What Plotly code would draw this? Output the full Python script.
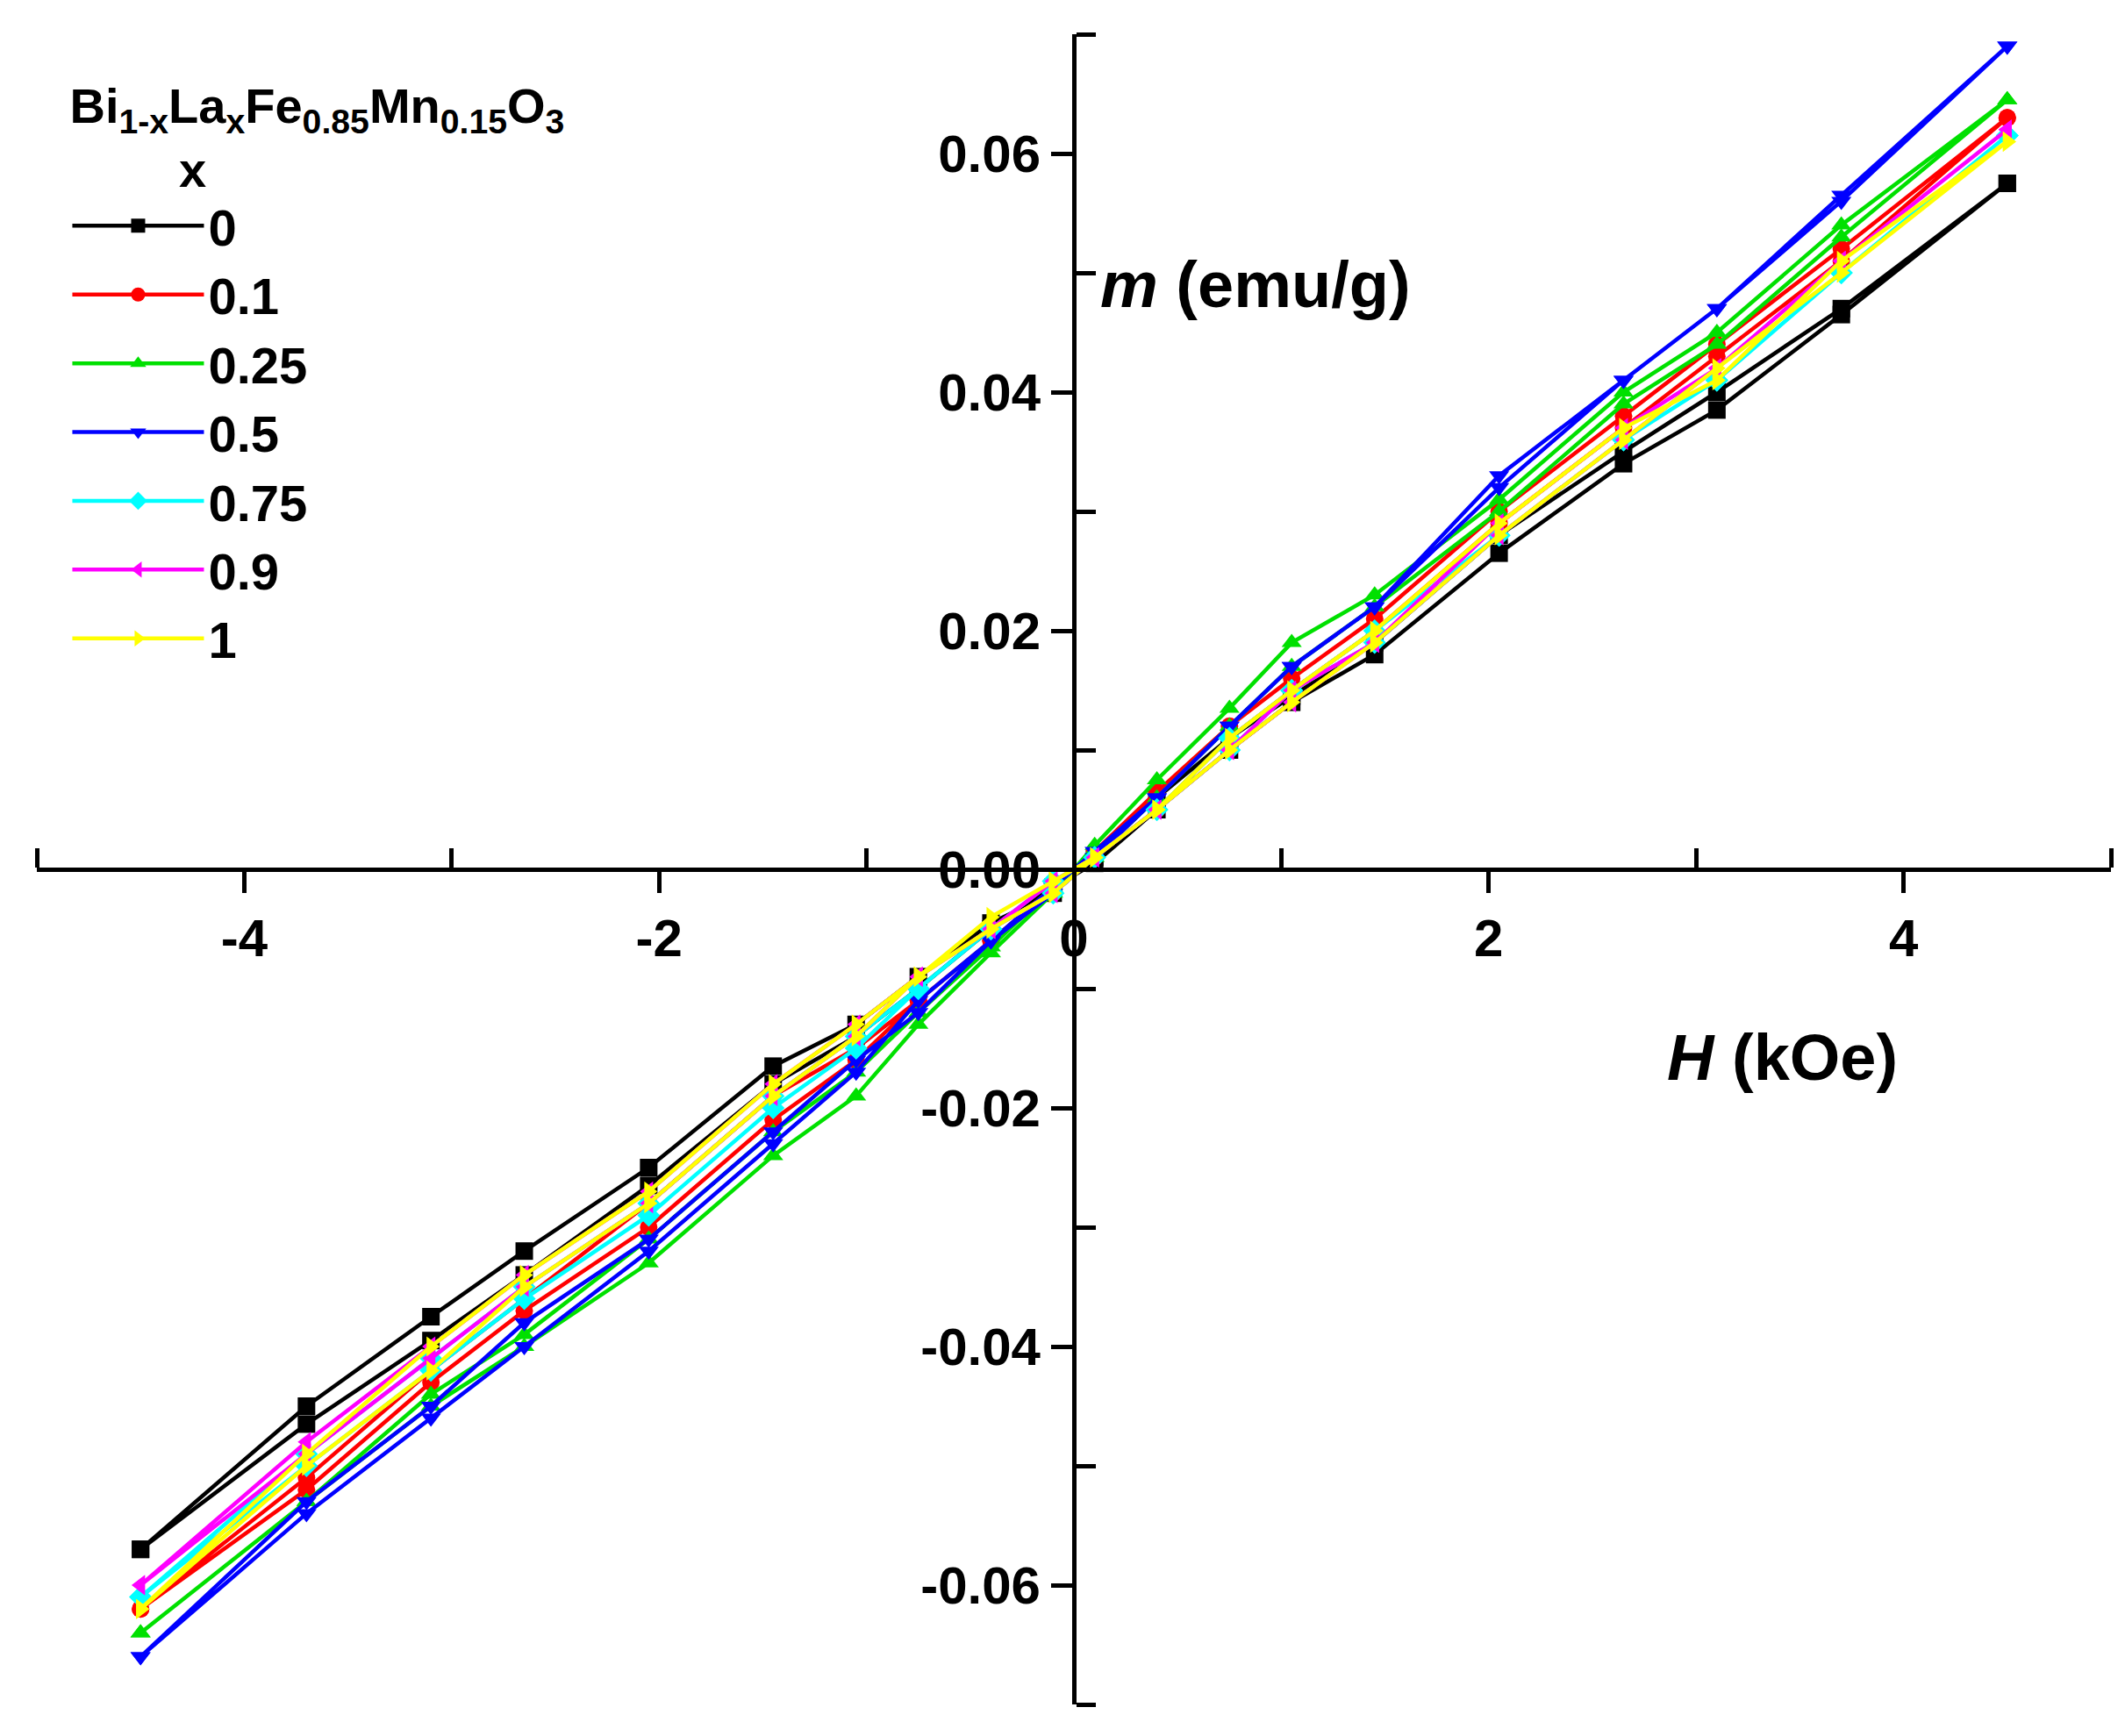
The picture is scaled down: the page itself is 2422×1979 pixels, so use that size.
import plotly.graph_objects as go

H_down = [4.5,3.7,3.1,2.65,2.05,1.45,1.05,0.75,0.4,0.1,-0.1,-0.4,-0.75,-1.05,-1.45,-2.05,-2.65,-3.1,-3.7,-4.5]
H_up = H_down[::-1]

labels = ["0","0.1","0.25","0.5","0.75","0.9","1"]
colors = ["black","red","#00e000","blue","cyan","magenta","yellow"]
symbols = ["square","circle","triangle-up","triangle-down","diamond","triangle-left","triangle-right"]

m0_down = [0.0575,0.047,0.040,0.035,0.028,0.019,0.0145,0.011,0.006,0.001,-0.002,-0.0045,-0.009,-0.013,-0.0165,-0.025,-0.032,-0.0375,-0.045,-0.057]
m0_up = [-0.057,-0.0465,-0.0395,-0.034,-0.0265,-0.018,-0.014,-0.010,-0.005,-0.0015,0.0005,0.005,0.010,0.014,0.018,0.0265,0.034,0.0385,0.0465,0.0575]
m1_down = [0.063,0.052,0.044,0.038,0.030,0.021,0.016,0.012,0.0065,0.0015,-0.002,-0.006,-0.011,-0.015,-0.019,-0.028,-0.036,-0.042,-0.051,-0.062]
m1_up = [-0.062,-0.052,-0.043,-0.037,-0.030,-0.021,-0.016,-0.011,-0.006,-0.0015,0.001,0.005,0.011,0.015,0.020,0.029,0.037,0.043,0.051,0.063]
m2_down = [0.0645,0.054,0.045,0.040,0.031,0.023,0.019,0.0135,0.0075,0.002,-0.002,-0.007,-0.013,-0.019,-0.024,-0.033,-0.040,-0.045,-0.053,-0.064]
m2_up = [-0.064,-0.053,-0.044,-0.039,-0.031,-0.022,-0.017,-0.012,-0.0065,-0.0015,0.001,0.006,0.012,0.017,0.022,0.030,0.039,0.044,0.053,0.0645]
m3_down = [0.069,0.0565,0.047,0.041,0.033,0.022,0.017,0.012,0.006,0.001,-0.002,-0.006,-0.012,-0.016,-0.022,-0.031,-0.038,-0.045,-0.053,-0.066]
m3_up = [-0.066,-0.054,-0.046,-0.040,-0.032,-0.023,-0.017,-0.011,-0.006,-0.0015,0.0015,0.006,0.012,0.017,0.022,0.032,0.041,0.047,0.056,0.069]
m4_down = [0.0615,0.050,0.041,0.036,0.028,0.020,0.015,0.011,0.005,0.001,-0.002,-0.005,-0.010,-0.014,-0.019,-0.028,-0.035,-0.041,-0.049,-0.061]
m4_up = [-0.061,-0.050,-0.042,-0.036,-0.029,-0.020,-0.015,-0.010,-0.005,-0.001,0.001,0.005,0.010,0.015,0.019,0.028,0.036,0.041,0.050,0.0615]
m5_down = [0.062,0.051,0.042,0.037,0.029,0.019,0.015,0.010,0.005,0.001,-0.002,-0.005,-0.009,-0.013,-0.018,-0.027,-0.034,-0.040,-0.048,-0.060]
m5_up = [-0.060,-0.049,-0.041,-0.035,-0.028,-0.019,-0.014,-0.009,-0.005,-0.001,0.001,0.005,0.010,0.014,0.019,0.028,0.036,0.042,0.051,0.062]
m6_down = [0.061,0.051,0.041,0.037,0.029,0.020,0.015,0.011,0.005,0.001,-0.002,-0.005,-0.009,-0.013,-0.018,-0.027,-0.034,-0.040,-0.049,-0.062]
m6_up = [-0.062,-0.050,-0.042,-0.035,-0.028,-0.019,-0.014,-0.009,-0.004,-0.001,0.001,0.005,0.010,0.014,0.019,0.028,0.036,0.042,0.050,0.061]

series = [(m0_down,m0_up),(m1_down,m1_up),(m2_down,m2_up),(m3_down,m3_up),
          (m4_down,m4_up),(m5_down,m5_up),(m6_down,m6_up)]

FONT = "Liberation Sans, Arial, sans-serif"
fig = go.Figure()
for (d, u), lab, c, s in zip(series, labels, colors, symbols):
    fig.add_trace(go.Scatter(
        x=H_down + H_up, y=d + u, mode="lines+markers", name="<b>%s</b>" % lab,
        line=dict(color=c, width=4.5),
        marker=dict(symbol=s, size=20, color=c)))

axfont = dict(family=FONT, size=60, color="black")
fig.update_layout(
    width=2422, height=1979, plot_bgcolor="white", paper_bgcolor="white",
    margin=dict(l=34, r=24, t=31, b=44),
    font=dict(family=FONT, color="black"),
    xaxis=dict(range=[-5, 5], anchor="free", position=0.5, showline=True, linecolor="black",
               linewidth=5, showgrid=False, zeroline=False, tickvals=[-4,-2,0,2,4],
               ticktext=["<b>-4</b>","<b>-2</b>","<b>0</b>","<b>2</b>","<b>4</b>"],
               ticks="outside", ticklen=24, tickwidth=5, tickcolor="black", tickfont=axfont,
               minor=dict(tickvals=[-5,-3,-1,1,3,5], ticks="inside", ticklen=22, tickwidth=5, tickcolor="black")),
    yaxis=dict(range=[-0.07, 0.07], anchor="free", position=0.5, showline=True, linecolor="black",
               linewidth=5, showgrid=False, zeroline=False,
               tickvals=[-0.06,-0.04,-0.02,0,0.02,0.04,0.06],
               ticktext=["<b>-0.06</b>","<b>-0.04</b>","<b>-0.02</b>","<b>0.00</b>","<b>0.02</b>","<b>0.04</b>","<b>0.06</b>"],
               ticks="outside", ticklen=24, tickwidth=5, tickcolor="black", tickfont=axfont,
               minor=dict(tickvals=[-0.07,-0.05,-0.03,-0.01,0.01,0.03,0.05,0.07], ticks="inside",
                          ticklen=22, tickwidth=5, tickcolor="black")),
    legend=dict(x=0.015, y=0.985, xanchor="left", yanchor="top", bgcolor="rgba(0,0,0,0)",
                font=dict(family=FONT, size=58, color="black"), itemwidth=150, tracegroupgap=10,
                title=dict(text="<b>Bi<sub>1-x</sub>La<sub>x</sub>Fe<sub>0.85</sub>Mn<sub>0.15</sub>O<sub>3</sub></b><br><b>        x</b>",
                           font=dict(family=FONT, size=56, color="black"))),
    annotations=[
        dict(x=0.12, y=0.049, xref="x", yref="y", xanchor="left", showarrow=False,
             text="<b><i>m</i> (emu/g)</b>", font=dict(family=FONT, size=74, color="black")),
        dict(x=2.85, y=-0.0158, xref="x", yref="y", xanchor="left", showarrow=False,
             text="<b><i>H</i> (kOe)</b>", font=dict(family=FONT, size=74, color="black")),
    ])
fig.write_html("out.html")
